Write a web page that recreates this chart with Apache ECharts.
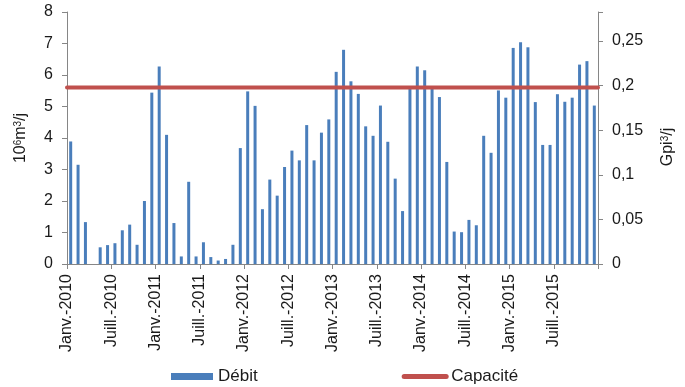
<!DOCTYPE html>
<html>
<head>
<meta charset="utf-8">
<script src="https://cdn.jsdelivr.net/npm/echarts@6/dist/echarts.min.js"></script>
<style>
  html, body { margin: 0; padding: 0; background: #fff; }
  #chart { width: 685px; height: 387px; }
</style>
</head>
<body>
<div id="chart"></div>
<script>
// monthly flow, Jan 2010 .. Dec 2015 (10^6 m3/j)
const debit = [
  3.89, 3.15, 1.33, 0, 0.53, 0.60, 0.66, 1.07, 1.25, 0.61, 2.00, 5.44,
  6.27, 4.10, 1.30, 0.24, 2.61, 0.24, 0.69, 0.22, 0.11, 0.16, 0.61, 3.68,
  5.48, 5.02, 1.74, 2.68, 2.17, 3.08, 3.60, 3.29, 4.41, 3.29, 4.17, 4.59,
  6.10, 6.80, 5.80, 5.40, 4.37, 4.07, 5.03, 3.88, 2.71, 1.68, 5.58, 6.27,
  6.15, 5.58, 5.30, 3.24, 1.03, 1.01, 1.40, 1.23, 4.07, 3.53, 5.51, 5.28,
  6.86, 7.04, 6.88, 5.14, 3.78, 3.78, 5.39, 5.15, 5.28, 6.33, 6.44, 5.03
];
const capacite = 5.6;
const tickLabels = [
  'Janv.-2010', 'Juill.-2010', 'Janv.-2011', 'Juill.-2011',
  'Janv.-2012', 'Juill.-2012', 'Janv.-2013', 'Juill.-2013',
  'Janv.-2014', 'Juill.-2014', 'Janv.-2015', 'Juill.-2015'
];
const nbMois = debit.length;
const maxGauche = 8;
const m3VersGpi3 = 0.0353147; // 10^6 m3 -> Gpi3

const font = '"Liberation Sans Narrow", "Liberation Sans", Arial, sans-serif';
const txt = '#1a1a1a';
const axisGray = '#868686';
const bleu = '#4A7EBB';
const rouge = '#C0504D';

const supRich = { s: { fontSize: 10, verticalAlign: 'top', lineHeight: 15, padding: [0, 0, 6, 0] } };

const chart = echarts.init(document.getElementById('chart'));

chart.setOption({
  animation: false,
  textStyle: { fontFamily: font, color: txt },
  grid: { left: 67, right: 87, top: 12, bottom: 123 },
  legend: {
    top: 363,
    left: 166,
    itemGap: 144,
    itemWidth: 42,
    itemHeight: 7,
    textStyle: { fontFamily: font, fontSize: 17, color: txt },
    data: [
      { name: 'Débit', icon: 'rect' },
      {
        name: 'Capacité',
        itemStyle: { opacity: 0 },
        lineStyle: { color: rouge, width: 5, cap: 'round' }
      }
    ]
  },
  xAxis: {
    type: 'value',
    min: 0,
    max: nbMois,
    interval: 6,
    axisLine: { lineStyle: { color: axisGray } },
    axisTick: { show: true, length: 5, lineStyle: { color: axisGray } },
    splitLine: { show: false },
    axisLabel: {
      rotate: 90,
      margin: 10,
      fontFamily: font,
      fontSize: 16,
      color: txt,
      formatter: v => tickLabels[v / 6] || ''
    }
  },
  yAxis: [
    {
      type: 'value',
      min: 0,
      max: maxGauche,
      interval: 1,
      position: 'left',
      name: '10{s|6}m{s|3}/j',
      nameLocation: 'middle',
      nameGap: 38,
      nameTextStyle: { fontFamily: font, fontSize: 16, color: txt, rich: supRich },
      axisLine: { show: true, lineStyle: { color: axisGray } },
      axisTick: { show: true, length: 5, lineStyle: { color: axisGray } },
      splitLine: { show: false },
      axisLabel: { fontFamily: font, fontSize: 16, color: txt, margin: 14 }
    },
    {
      type: 'value',
      min: 0,
      max: maxGauche * m3VersGpi3,
      interval: 0.05,
      position: 'right',
      name: 'Gpi{s|3}/j',
      nameLocation: 'middle',
      nameGap: 62,
      nameTextStyle: {
        fontFamily: font, fontSize: 16, color: txt, rich: supRich,
        padding: [0, 18, 0, 0]
      },
      axisLine: { show: true, lineStyle: { color: axisGray } },
      axisTick: { show: true, length: 5, lineStyle: { color: axisGray } },
      splitLine: { show: false },
      axisLabel: {
        fontFamily: font, fontSize: 16, color: txt, margin: 14,
        formatter: v => {
          const k = Math.round(v / 0.05);
          if (Math.abs(v - k * 0.05) > 1e-6) return '';
          return String(+(k * 0.05).toFixed(2)).replace('.', ',');
        }
      }
    }
  ],
  series: [
    {
      name: 'Débit',
      type: 'bar',
      yAxisIndex: 0,
      barWidth: 3,
      itemStyle: { color: bleu },
      data: debit.map((v, i) => [i + 0.5, v])
    },
    {
      name: 'Capacité',
      type: 'line',
      yAxisIndex: 0,
      symbol: 'none',
      color: rouge,
      lineStyle: { color: rouge, width: 4, cap: 'round' },
      data: [[0, capacite], [nbMois, capacite]],
      z: 5
    }
  ]
});
</script>
</body>
</html>
